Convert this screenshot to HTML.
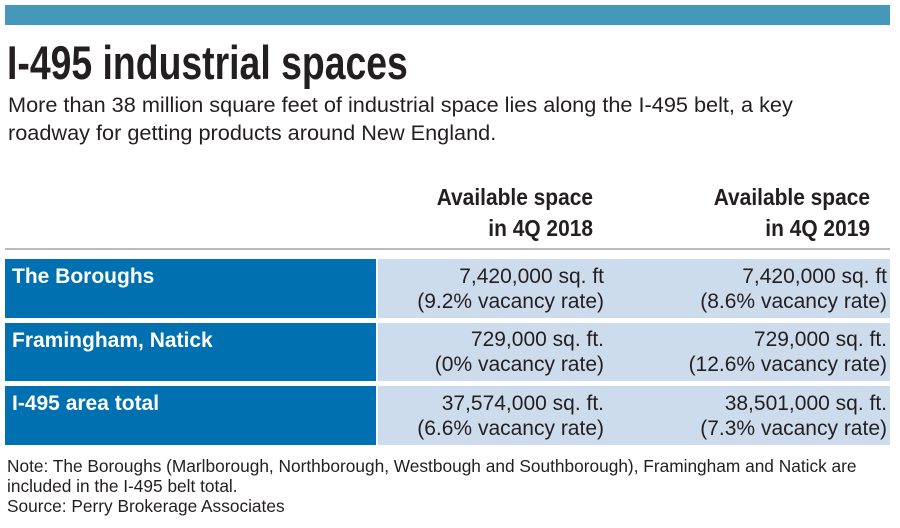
<!DOCTYPE html>
<html><head><meta charset="utf-8"><style>
body{margin:0;width:900px;height:528px;background:#fff;font-family:"Liberation Sans",sans-serif;color:#231f20;position:relative;overflow:hidden}
div{position:absolute}
.t{font-family:"Liberation Sans Narrow","Liberation Sans",sans-serif;font-weight:bold}
.lab{left:5px;width:371px;background:#0070b0;color:#fff;font-weight:bold;font-size:21px;padding:0;box-sizing:border-box}
.lab span{position:absolute;left:7px;top:6px}
.cell{background:#cddcec;font-size:21px;line-height:25px;text-align:right}
.h{font-size:23px;line-height:31px;text-align:right;top:182px;transform:scaleX(0.91);transform-origin:right}
</style></head><body>
<div style="left:5px;top:5px;width:885px;height:20px;background:#4499bb"></div>
<div class="t" style="left:7px;top:36px;font-size:47px;line-height:54px;transform:scaleX(0.795);transform-origin:left;white-space:nowrap">I-495 industrial spaces</div>
<div style="left:8px;top:91px;font-size:21.7px;line-height:28px;width:890px;white-space:nowrap">More than 38 million square feet of industrial space lies along the I-495 belt, a key<br>roadway for getting products around New England.</div>
<div class="t h" style="left:380px;width:213px">Available space<br>in 4Q 2018</div>
<div class="t h" style="left:640px;width:230px">Available space<br>in 4Q 2019</div>
<div style="left:5px;top:248px;width:885px;height:2px;background:#bbb"></div>

<div class="lab" style="top:259px;height:59px"><span>The Boroughs</span></div>
<div class="cell" style="left:378px;top:259px;width:226px;height:59px;padding-top:5px;box-sizing:border-box">7,420,000 sq. ft<br>(9.2% vacancy rate)</div>
<div class="cell" style="left:604px;top:259px;width:283px;padding-top:5px;padding-right:3px;height:54px">7,420,000 sq. ft<br>(8.6% vacancy rate)</div>

<div class="lab" style="top:323px;height:58px"><span>Framingham, Natick</span></div>
<div class="cell" style="left:378px;top:323px;width:226px;height:58px;padding-top:4px;box-sizing:border-box">729,000 sq. ft.<br>(0% vacancy rate)</div>
<div class="cell" style="left:604px;top:323px;width:283px;padding-right:3px;padding-top:4px;height:54px">729,000 sq. ft.<br>(12.6% vacancy rate)</div>

<div class="lab" style="top:386px;height:59px"><span>I-495 area total</span></div>
<div class="cell" style="left:378px;top:386px;width:226px;height:59px;padding-top:5px;box-sizing:border-box">37,574,000 sq. ft.<br>(6.6% vacancy rate)</div>
<div class="cell" style="left:604px;top:386px;width:283px;padding-right:3px;padding-top:5px;height:54px">38,501,000 sq. ft.<br>(7.3% vacancy rate)</div>

<div style="left:7px;top:456px;font-size:17.3px;line-height:20px;width:893px;white-space:nowrap">Note: The Boroughs (Marlborough, Northborough, Westbough and Southborough), Framingham and Natick are<br>included in the I-495 belt total.<br>Source: Perry Brokerage Associates</div>
</body></html>
